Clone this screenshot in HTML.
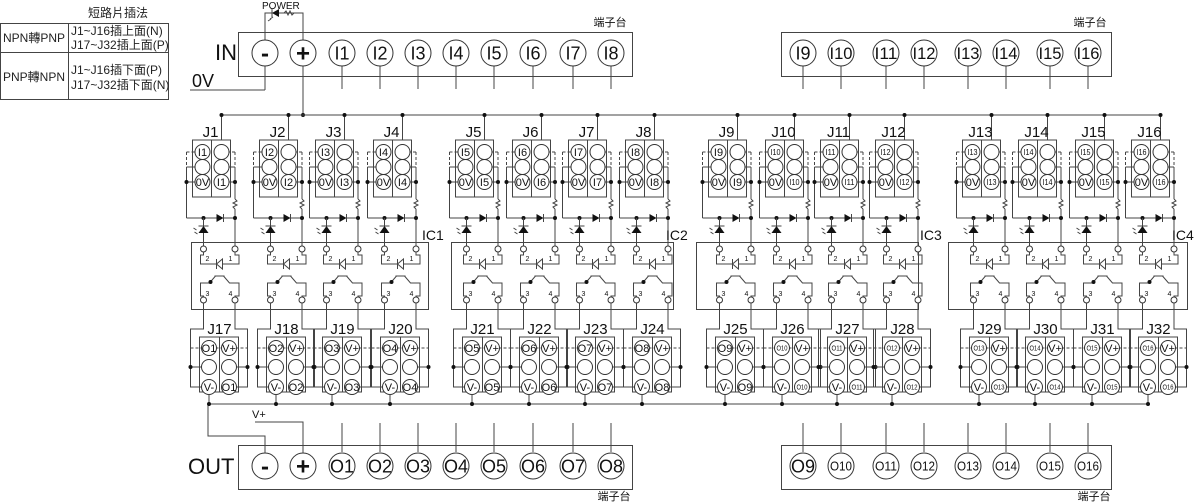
<!DOCTYPE html>
<html><head><meta charset="utf-8">
<style>
html,body{margin:0;padding:0;background:#fff;}
svg{display:block;font-family:"Liberation Sans","Noto Sans CJK TC",sans-serif;}
</style></head>
<body>
<svg id="s" width="1200" height="504" viewBox="0 0 1200 504" xmlns="http://www.w3.org/2000/svg">
<g fill="none" stroke="#444" stroke-width="1">
<rect x="0.5" y="23.5" width="168" height="76"/>
<line x1="0" y1="52.5" x2="169" y2="52.5"/>
<line x1="68.5" y1="23" x2="68.5" y2="100"/>
</g>
<g font-size="12" fill="#222">
<text x="118" y="17" text-anchor="middle">短路片插法</text>
<text x="34" y="42" text-anchor="middle">NPN轉PNP</text>
<text x="71" y="35">J1~J16插上面(N)</text>
<text x="71" y="49">J17~J32插上面(P)</text>
<text x="34" y="81" text-anchor="middle">PNP轉NPN</text>
<text x="71" y="74">J1~J16插下面(P)</text>
<text x="71" y="89">J17~J32插下面(N)</text>
</g>
<g id="g"></g>
<g id="t" fill="#111"></g>
</svg>
<script>
(function(){
var NS="http://www.w3.org/2000/svg",g=document.getElementById('g'),T=document.getElementById('t');
function el(n,a,p){var e=document.createElementNS(NS,n);for(var k in a)e.setAttribute(k,a[k]);(p||g).appendChild(e);return e;}
function L(x1,y1,x2,y2,d){var a={x1:x1,y1:y1,x2:x2,y2:y2,stroke:'#444','stroke-width':1};if(d)a['stroke-dasharray']='3,2';el('line',a);}
function P(pts,fill){el('polyline',{points:pts,fill:fill||'none',stroke:'#444','stroke-width':1});}
function C(x,y,r){el('circle',{cx:x,cy:y,r:r,fill:'#fff',stroke:'#333','stroke-width':1});}
function D(x,y){el('circle',{cx:x,cy:y,r:2,fill:'#111'});}
function R(x,y,w,h){el('rect',{x:x,y:y,width:w,height:h,fill:'none',stroke:'#444','stroke-width':1});}
function TX(x,y,s,sz,anc,tl,bold){var a={x:x,y:y,'font-size':sz,'text-anchor':anc||'middle'};if(tl){a.textLength=tl;a.lengthAdjust='spacingAndGlyphs';}if(bold)a['font-weight']='bold';var e=el('text',a,T);e.textContent=s;return e;}
function CT(x,y,r,s,sz,tl,bold){C(x,y,r);TX(x,y+sz*0.36,s,sz,'middle',tl,bold);}

R(238.5,32.5,394,44);R(781.5,32.5,330,44);
R(238.5,445.5,394,44);R(781.5,445.5,330,44);
TX(610,26,"端子台",11);TX(1090,26,"端子台",11);
TX(614,500,"端子台",11);TX(1094,500,"端子台",11);
TX(215,60,"IN",22,'start');TX(192,87,"0V",18,'start');
TX(188,474,"OUT",22,'start');TX(252,418,"V+",11,'start');
TX(262,9,"POWER",10,'start');
P("265,40 265,13 303,13 303,40");
el('polygon',{points:"272,13 279,9 279,17",fill:'#111'});L(272,9,272,17);
P("284,13 286,11 288,15 290,11 292,15 294,13",'none');
L(270,19,273,17);L(268,21,271,19);
var IX=[342,380,418,456,494,533,573,611,803,841,886,924,968,1006,1050,1088];
var IN=["I1","I2","I3","I4","I5","I6","I7","I8","I9","I10","I11","I12","I13","I14","I15","I16"];
var ON=["O1","O2","O3","O4","O5","O6","O7","O8","O9","O10","O11","O12","O13","O14","O15","O16"];
L(265,66,265,90);L(265,90,190,90);L(303,66,303,115);D(303,115);
L(221.5,115,1160,115);
for(var k=0;k<16;k++){L(IX[k],66,IX[k],89);CT(IX[k],53,13,IN[k],k<9?18:17,k<9?0:23);}
CT(265,53,13,"-",24,0,1);CT(303,53,13,"+",24,0,1);
for(var k=0;k<16;k++){L(IX[k],423,IX[k],452);CT(IX[k],466,13,ON[k],k<9?18:13,k<9?0:22);}
CT(265,466,13,"-",24,0,1);CT(303,466,13,"+",24,0,1);
P("208,404 208,436 265,436 265,453");P("255,422 303,422 303,453");
L(208,404,1150,404);
R(191.5,242.5,237,67);R(451.5,242.5,222,67);R(696.5,242.5,222,67);R(948.5,242.5,239,67);
TX(422,240,"IC1",14,'start');TX(666,240,"IC2",14,'start');TX(920,240,"IC3",14,'start');TX(1172,240,"IC4",14,'start');
var LF=[192,259,315,373,455,512,568,625,708,765,820,875,962,1018,1075,1131];
var JT=["J1","J2","J3","J4","J5","J6","J7","J8","J9","J10","J11","J12","J13","J14","J15","J16"];
var JB=["J17","J18","J19","J20","J21","J22","J23","J24","J25","J26","J27","J28","J29","J30","J31","J32"];
var PN=["2","1","3","4"],OV="0V",VP="V+",VM="V-";
for(var i=0;i<16;i++){
 var l=LF[i]+0.5,a=l+10,b=l+29,bl=l-6,br=l+42.5,p2=l+11;
 L(b,115,b,140);D(b,115);
 R(l,140,38,57);L(l+19,140,l+19,197);
 TX(l+18,137,JT[i],15);
 L(bl,152,a-7,152,1);L(bl,152,bl,167,1);L(br,152,b+7,152,1);L(br,152,br,167,1);
 L(bl,167,a-7,167);L(br,167,b+7,167);L(bl,182,a-7,182);L(br,182,b+7,182);
 L(bl,167,bl,218);L(br,167,br,199);D(bl,182);D(br,182);
 P(br+","+199+" "+(br+2)+",201 "+(br-2)+",203 "+(br+2)+",205 "+(br-2)+",207 "+br+",209");
 L(br,209,br,246);
 var s=i<9?11:8,tl=i<9?0:10;
 CT(a,152,7.5,IN[i],s,tl);C(b,152,7.5);C(a,167,7.5);C(b,167,7.5);
 CT(a,182,7.5,OV,11);CT(b,182,7.5,IN[i],s,tl);
 L(bl,218,br,218);D(p2,218);D(br,218);
 el('polygon',{points:(l+24)+",214 "+(l+24)+",222 "+(l+31)+",218",fill:'#111'});L(l+31,214,l+31,222);
 L(p2,218,p2,246);
 el('polygon',{points:(p2-5)+",233 "+(p2+5)+",233 "+p2+",226",fill:'#111'});L(p2-5,226,p2+5,226);
 L(p2-10,228,p2-7,230);L(p2-9,232,p2-6,234);
 C(p2,249,3);C(br,249,3);C(p2,300,3);C(br,300,3);
 var il=l+8,ir=l+46.5;
 P(p2+",252 "+p2+",255 "+il+",255 "+il+",264 "+ir+",264 "+ir+",255 "+br+",255 "+br+",252");
 el('polygon',{points:(l+30)+",259 "+(l+30)+",269 "+(l+24)+",264",fill:'#fff',stroke:'#444'});L(l+24,259,l+24,269);
 P(p2+",297 "+p2+",296 "+il+",296 "+il+",283 "+(l+17)+",283 "+(l+23)+",276");
 P(br+",297 "+br+",296 "+ir+",296 "+ir+",283 "+(l+37)+",283 "+(l+31)+",276");
 L(l+22,276,l+32,276);D(l+18,282);
 TX(l+15,261,PN[0],7);TX(l+38,261,PN[1],7);TX(l+15,296,PN[2],7);TX(l+38,296,PN[3],7);
 var ol=l-2,orr=l+55,oa=l+16.5,ob=l+36.5;
 P(p2+",303 "+p2+",329 "+ol+",329 "+ol+",387 "+(oa-7.5)+",387");
 P(br+",303 "+br+",329 "+orr+",329 "+orr+",387 "+(ob+7.5)+",387");
 R(l+7,337,39,55);L(l+27,337,l+27,392);
 TX(l+27,334,JB[i],15);
 L(ol,348,orr,348,1);
 L(ol,367,oa-7.5,367);L(ob+7.5,367,orr,367);D(ol,367);D(orr,367);
 var os=i<9?11:7,otl=i<9?0:11;
 CT(oa,348,7.5,ON[i],os,otl);CT(ob,348,7.5,VP,11);
 C(oa,367,7.5);C(ob,367,7.5);
 CT(oa,387,7.5,VM,11);CT(ob,387,7.5,ON[i],os,otl);
 L(oa,394.5,oa,404);D(oa,404);
}
})();
</script>
</body></html>
